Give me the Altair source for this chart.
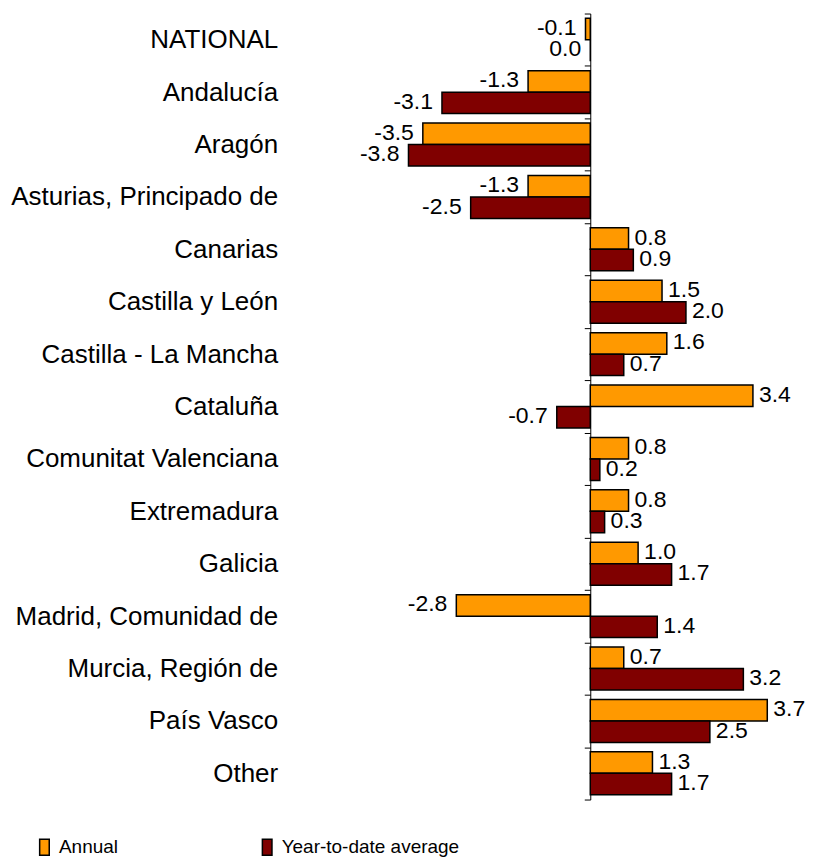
import altair as alt
import pandas as pd

regions = ["NATIONAL\u00a0", "Andalucía", "Aragón", "Asturias, Principado de", "Canarias",
           "Castilla y León", "Castilla - La Mancha", "Cataluña", "Comunitat Valenciana",
           "Extremadura", "Galicia", "Madrid, Comunidad de", "Murcia, Región de",
           "País Vasco", "Other"]
annual = [-0.1, -1.3, -3.5, -1.3, 0.8, 1.5, 1.6, 3.4, 0.8, 0.8, 1.0, -2.8, 0.7, 3.7, 1.3]
ytd = [0.0, -3.1, -3.8, -2.5, 0.9, 2.0, 0.7, -0.7, 0.2, 0.3, 1.7, 1.4, 3.2, 2.5, 1.7]
series = ["Annual", "Year-to-date average"]
colors = ["#FF9900", "#800000"]

rows = []
for r, a, y in zip(regions, annual, ytd):
    rows.append({"region": r, "series": series[0], "value": a, "label": f"{a:.1f}"})
    rows.append({"region": r, "series": series[1], "value": y, "label": f"{y:.1f}"})
df = pd.DataFrame(rows)

FONT = "Liberation Sans, Arial, sans-serif"
NARROW = "Liberation Sans Narrow, Arial Narrow, Liberation Sans, Arial, sans-serif"

PX_PER_UNIT = 47.9
DOM = [-4.0, 4.2]
W = (DOM[1] - DOM[0]) * PX_PER_UNIT
ZERO_OFF = -DOM[0] * PX_PER_UNIT
PAD_LEFT = 583 - ZERO_OFF
PAD_RIGHT = 798 - PAD_LEFT - W

x = alt.X("value:Q", scale=alt.Scale(domain=DOM, nice=False, zero=False), axis=None)
y = alt.Y("region:N", sort=regions,
          scale=alt.Scale(paddingInner=0, paddingOuter=0),
          axis=alt.Axis(title=None, offset=-ZERO_OFF, tickBand="extent", ticks=True,
                        tickSize=6, tickColor="black", tickWidth=1,
                        domainColor="black", domainWidth=1,
                        labelPadding=307, labelFont=FONT, labelFontSize=26,
                        labelColor="black", labelLimit=400, grid=False))
yoff = alt.YOffset("series:N", sort=series,
                   scale=alt.Scale(paddingOuter=0.22, paddingInner=0))

bars = alt.Chart(df).mark_bar(stroke="black", strokeWidth=1.5).encode(
    x=x, y=y, yOffset=yoff,
    color=alt.Color("series:N", sort=series,
                    scale=alt.Scale(domain=series, range=colors),
                    legend=alt.Legend(title=None, orient="none", direction="horizontal",
                                      legendX=-(PAD_LEFT + 8 - 35), legendY=825,
                                      symbolType="M-0.6,-1H0.6V1H-0.6Z",
                                      symbolSize=256, symbolStrokeColor="black",
                                      symbolStrokeWidth=1.5, symbolOpacity=1,
                                      labelFont=NARROW, labelFontSize=19,
                                      labelColor="black", labelOffset=5,
                                      columnPadding=139, labelLimit=400)),
)

pos_text = alt.Chart(df).transform_filter("datum.value > 0").mark_text(
    align="left", baseline="middle", dx=6, dy=-1, font=FONT, fontSize=23, color="black"
).encode(x=x, y=y, yOffset=yoff, text="label:N")

neg_text = alt.Chart(df).transform_filter("datum.value <= 0").mark_text(
    align="right", baseline="middle", dx=-9, dy=-1, font=FONT, fontSize=23, color="black"
).encode(x=x, y=y, yOffset=yoff, text="label:N")

chart = alt.layer(bars, pos_text, neg_text).properties(
    width=W, height=787,
    autosize=alt.AutoSizeParams(type="none"),
    padding={"left": PAD_LEFT, "top": 5, "right": PAD_RIGHT, "bottom": 57},
).configure_view(stroke=None)

chart.save("out.html", embed_options={"renderer": "svg", "actions": False})
